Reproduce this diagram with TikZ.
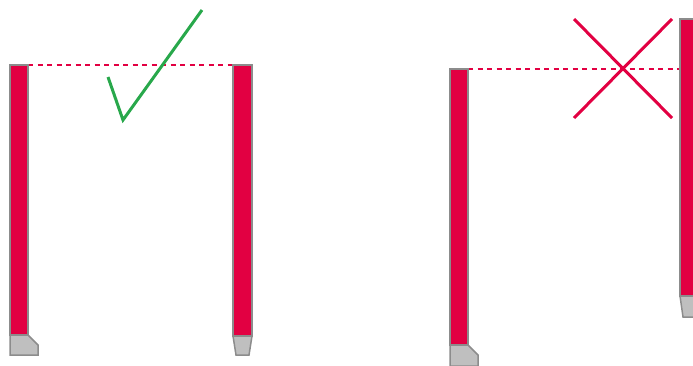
\documentclass[tikz,border=0pt]{standalone}
\definecolor{barred}{RGB}{226,0,66}
\definecolor{footgrey}{RGB}{191,191,191}
\definecolor{edgegrey}{RGB}{140,140,140}
\definecolor{okgreen}{RGB}{40,168,75}
\tikzset{
  bar/.style={fill=barred, draw=edgegrey, line width=1.5pt},
  foot/.style={fill=footgrey, draw=edgegrey, line width=1.5pt, line join=miter},
  level/.style={draw=barred, line width=1.1pt, dash pattern=on 5pt off 4.5pt},
  mark check/.style={draw=okgreen, line width=3pt, line join=miter},
  mark cross/.style={draw=barred, line width=3pt},
}
\begin{document}
\begin{tikzpicture}[x=1pt,y=-1pt]
\useasboundingbox (0,0) rectangle (693,365);
% left pair
\draw[level] (28,65) -- (233,65);
\draw[bar] (10,65) rectangle (28,335);
\draw[foot] (10,335) -- (28,335) -- (38,345) -- (38,355) -- (10,355) -- cycle;
\draw[bar] (233,65) rectangle (252,336);
\draw[foot] (233,336) -- (252,336) -- (249,355) -- (236,355) -- cycle;
\draw[mark check] (108,77) -- (123,120) -- (202,10);
% right pair
\draw[level] (468,69) -- (680,69);
\draw[bar] (450,69) rectangle (468,345);
\draw[foot] (450,345) -- (468,345) -- (478,355) -- (478,366) -- (450,366) -- cycle;
\draw[bar] (680,19) rectangle (696,296);
\draw[foot] (680,296) -- (696,296) -- (696,317) -- (683,317) -- cycle;
\draw[mark cross] (574,19) -- (672,118);
\draw[mark cross] (574,118) -- (672,19);
\end{tikzpicture}
\end{document}
